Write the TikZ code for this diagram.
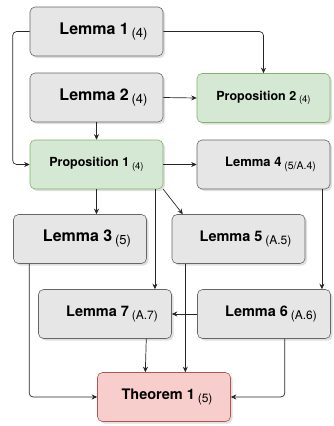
\documentclass[tikz,border=0pt]{standalone}
\usepackage{fontspec}
\setmainfont{TeX Gyre Heros}
\usetikzlibrary{arrows.meta, shadows}
\definecolor{grayfill}{HTML}{E6E6E6}
\definecolor{grayline}{HTML}{666666}
\definecolor{greenfill}{HTML}{D5E8D4}
\definecolor{greenline}{HTML}{82B366}
\definecolor{redfill}{HTML}{F8CECC}
\definecolor{redline}{HTML}{B85450}
\newcommand{\bigname}[2]{{\fontsize{16}{18}\selectfont\bfseries #1}~\raisebox{-3pt}{\fontsize{13}{15}\selectfont(#2)}}
\newcommand{\midname}[2]{{\fontsize{14.5}{17}\selectfont\bfseries #1}~\raisebox{-3pt}{\fontsize{12}{14}\selectfont(#2)}}
\newcommand{\smallname}[2]{{\fontsize{13}{15}\selectfont\bfseries #1}~\raisebox{-2.5pt}{\fontsize{10.5}{12}\selectfont(#2)}}
\newcommand{\propname}[2]{{\fontsize{12.5}{14}\selectfont\bfseries #1}~\raisebox{-2.5pt}{\fontsize{9.5}{11}\selectfont(#2)}}
\tikzset{
  box/.style={rectangle, rounded corners=5pt, minimum width=133pt, minimum height=49pt, line width=0.6pt,
    drop shadow={shadow xshift=2pt, shadow yshift=-2pt, opacity=0.25}},
  lem/.style={box, draw=grayline, fill=grayfill, execute at begin node={\hspace*{14pt}}},
  prop/.style={box, draw=greenline, fill=greenfill},
  thm/.style={box, draw=redline, fill=redfill, execute at begin node={\hspace*{6pt}}},
  arr/.style={-{Stealth[length=5.5pt, width=5pt]}, line width=0.7pt, draw=black!85, rounded corners=4pt}
}

\begin{document}
\begin{tikzpicture}[x=1pt, y=-1pt]
\useasboundingbox (0,0) rectangle (334,426);
\node[lem] (l1) at (96.5, 31.5) {\bigname{Lemma 1}{4}};
\node[lem] (l2) at (96.5, 97.5) {\bigname{Lemma 2}{4}};
\node[prop] (p2) at (263.5, 98) {\propname{Proposition 2}{4}};
\node[prop] (p1) at (96.5, 164.5) {\propname{Proposition 1}{4}};
\node[lem] (l4) at (263.5, 164.5) {\smallname{Lemma 4}{5/A.4}};
\node[lem] (l3) at (80, 239) {\bigname{Lemma 3}{5}};
\node[lem] (l5) at (238.5, 239) {\midname{Lemma 5}{A.5}};
\node[lem] (l7) at (105, 314) {\midname{Lemma 7}{A.7}};
\node[lem] (l6) at (264, 314) {\midname{Lemma 6}{A.6}};
\node[thm] (t1) at (164, 397) {\midname{Theorem 1}{5}};
\draw[arr] (l1.west) -- ++(-17,0) |- (p1.west);
\draw[arr] (l1.east) -| (p2.north);
\draw[arr] (l2.east) -- (p2.west);
\draw[arr] (l2.south) -- (p1.north);
\draw[arr] (p1.east) -- (l4.west);
\draw[arr] (p1.south) -- (p1.south |- l3.north);
\draw[arr] (p1.-23) -- (p1.-23 |- l7.north);
\draw[arr] (p1.south east) -- (l5.156);
\draw[arr] (l4.-23) -- (l4.-23 |- l6.north);
\draw[arr] (l6.west) -- (l7.east);
\draw[arr] (l3.206) |- (t1.west);
\draw[arr] (l5.-155) -- (l5.-155 |- t1.north);
\draw[arr] (l7.-31) -- (t1.127);
\draw[arr] (l6.-50) |- (t1.east);
\end{tikzpicture}
\end{document}
